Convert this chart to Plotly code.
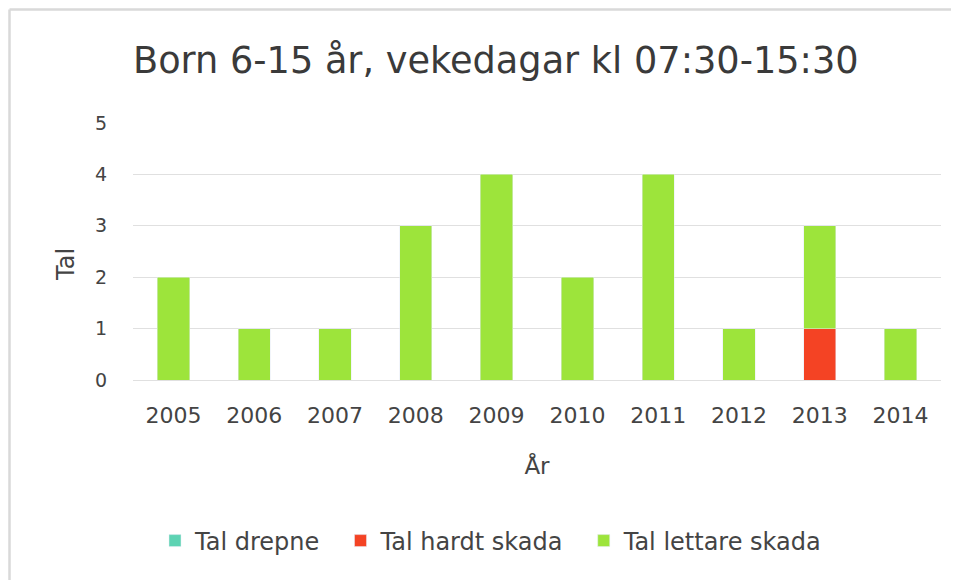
import plotly.graph_objects as go

years = ["2005", "2006", "2007", "2008", "2009", "2010", "2011", "2012", "2013", "2014"]
drepne = [0, 0, 0, 0, 0, 0, 0, 0, 0, 0]
hardt = [0, 0, 0, 0, 0, 0, 0, 0, 1, 0]
lettare = [2, 1, 1, 3, 4, 2, 4, 1, 2, 1]
series_names = ["Tal drepne", "Tal hardt skada", "Tal lettare skada"]

FONT = "DejaVu Sans, Open Sans, sans-serif"
TXT = "#444444"
NB = "\u00a0"

fig = go.Figure()
fig.add_trace(go.Bar(x=years, y=drepne, name=series_names[0] + NB * 2, marker_color="#5dd3b3"))
fig.add_trace(go.Bar(x=years, y=hardt, name=series_names[1] + NB * 2, marker_color="#f44324"))
fig.add_trace(go.Bar(x=years, y=lettare, name=series_names[2], marker_color="#9de43b"))

OFF = 8  # page body margin
W, H = 959, 580
L, T = 133 - OFF, 123 - OFF
R, B = W - (941 - OFF), H - (380 - OFF)
pw, ph = W - L - R, H - T - B

def px_x(x):
    return (x - OFF - L) / pw

def px_y(y):
    return 1 - (y - OFF - T) / ph

fig.update_layout(
    width=W, height=H,
    barmode="stack", bargap=0.6,
    margin=dict(l=L, r=R, t=T, b=B),
    paper_bgcolor="white", plot_bgcolor="white",
    font=dict(family=FONT, color=TXT),
    title=dict(text="Born 6-15 år, vekedagar kl 07:30-15:30", x=(133 - OFF) / W, xanchor="left",
               y=1 - (60 - OFF) / H, yanchor="middle", font=dict(size=36.7, color="#3a3a3a")),
    xaxis=dict(showgrid=False, ticks="", tickfont=dict(size=22, color=TXT), ticklabelstandoff=20,
               title=dict(text="År", font=dict(size=23, color=TXT), standoff=30),
               showline=False),
    yaxis=dict(range=[0, 5], dtick=1, gridcolor="#e0e0e0", gridwidth=1, zeroline=True,
               zerolinecolor="#e0e0e0", zerolinewidth=1,
               tickfont=dict(size=19, color=TXT), ticklabelstandoff=25),
    annotations=[dict(text="Tal", xref="paper", yref="paper", x=px_x(66), y=px_y(265),
                      xanchor="center", yanchor="middle", textangle=-90, showarrow=False,
                      font=dict(size=24, color=TXT))],
    legend=dict(orientation="h", x=px_x(491), xanchor="center", y=px_y(541), yanchor="middle",
                font=dict(size=24, color=TXT), itemwidth=30, traceorder="normal"),
    shapes=[
        dict(type="line", xref="paper", yref="paper", x0=px_x(9.5), x1=px_x(W + 20),
             y0=px_y(9.5), y1=px_y(9.5), line=dict(color="#d9d9d9", width=2.5)),
        dict(type="line", xref="paper", yref="paper", x0=px_x(9.5), x1=px_x(9.5),
             y0=px_y(9.5), y1=px_y(H + 20), line=dict(color="#d9d9d9", width=2.5)),
    ],
)

fig.write_html("out.html")
